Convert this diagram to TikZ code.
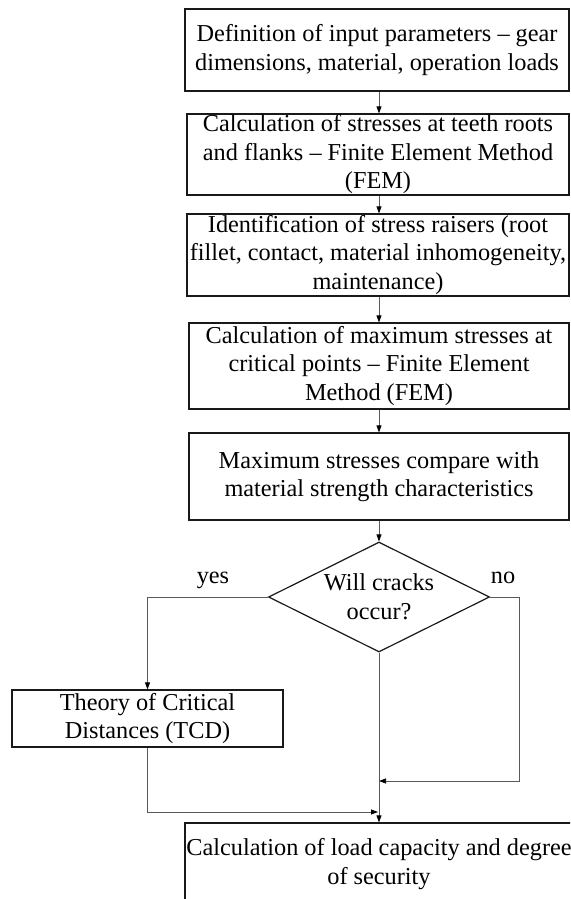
\documentclass[tikz,border=0pt]{standalone}
\usepackage{fontspec}
\setmainfont{Liberation Serif}
\usetikzlibrary{arrows.meta,shapes.geometric,calc}
\begin{document}
\begin{tikzpicture}[x=1pt,y=-1pt,
  box/.style={draw=black!90,line width=1.2pt,rectangle,inner sep=0pt,align=center,
    font=\fontsize{24.3}{28.5}\selectfont},
  dec/.style={draw=black!90,line width=1.2pt,diamond,aspect=2,inner sep=0pt,align=center,
    minimum width=221pt,minimum height=110pt,font=\fontsize{24.3}{29}\selectfont},
  lbl/.style={inner sep=0pt,anchor=base,font=\fontsize{24.3}{28.5}\selectfont},
  arr/.style={draw=black!65,line width=0.75pt,-{Triangle[length=7pt,width=5pt,color=black]}},
  con/.style={draw=black!65,line width=0.75pt}]
\useasboundingbox (0,0) rectangle (570,899);
\clip (0,0) rectangle (570,899);
\fill[white] (0,0) rectangle (570,899);

\node[box,minimum width=384pt,minimum height=82pt] (b1) at (377,50)
  {Definition of input parameters – gear\\dimensions, material, operation loads};
\node[box,minimum width=382pt,minimum height=81pt] (b2) at (378,154.5)
  {Calculation of stresses at teeth roots\\and flanks – Finite Element Method\\(FEM)};
\node[box,minimum width=382pt,minimum height=82pt] (b3) at (378,255)
  {Identification of stress raisers (root\\fillet, contact, material inhomogeneity,\\maintenance)};
\node[box,minimum width=380pt,minimum height=86pt] (b4) at (379,366)
  {Calculation of maximum stresses at\\critical points – Finite Element\\Method (FEM)};
\node[box,minimum width=380pt,minimum height=87pt] (b5) at (379,476.5)
  {Maximum stresses compare with\\material strength characteristics};
\node[dec] (dia) at (379,597) {Will cracks\\occur?};
\node[box,minimum width=271pt,minimum height=57pt] (tcd) at (147.5,718.5)
  {Theory of Critical\\Distances (TCD)};
\node[box,minimum width=388pt,minimum height=82pt] (bot) at (379,864)
  {Calculation of load capacity and degree\\of security};

\node[lbl] (yes) at (213,583) {yes};
\node[lbl] (no) at (503,583) {no};

\coordinate (noin) at (379,781);
\coordinate (tcdin) at (378,812);

\draw[arr] (b1.south -| dia.north) -- (b2.north -| dia.north);
\draw[arr] (b2.south -| dia.north) -- (b3.north -| dia.north);
\draw[arr] (b3.south -| dia.north) -- (b4.north -| dia.north);
\draw[arr] (b4.south -| dia.north) -- (b5.north -| dia.north);
\draw[arr] (b5.south -| dia.north) -- (dia.north);
\draw[arr] (dia.west) -| (tcd.north);
\draw[arr] (dia.east) -- ++(29,0) |- (noin);
\draw[arr] (tcd.south) |- (tcdin);
\draw[arr] (dia.south) -- (bot.north);
\end{tikzpicture}
\end{document}
